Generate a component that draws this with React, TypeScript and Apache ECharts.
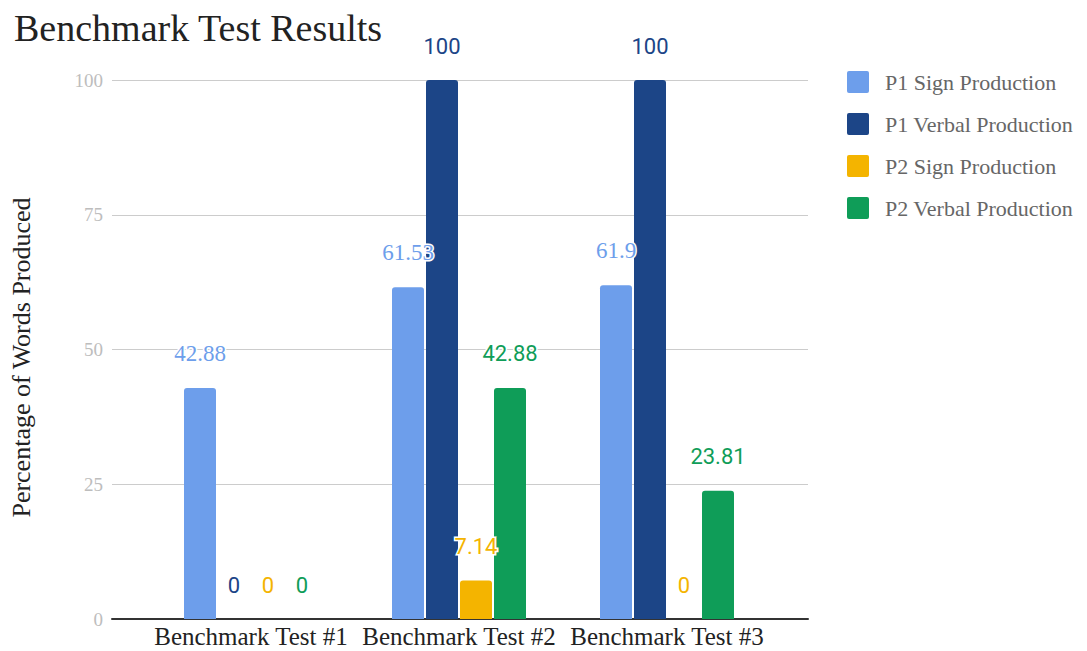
import React, { useEffect, useRef } from "react";
import * as echarts from "echarts";

const categories = ["Benchmark Test #1", "Benchmark Test #2", "Benchmark Test #3"];
const seriesNames = ["P1 Sign Production", "P1 Verbal Production", "P2 Sign Production", "P2 Verbal Production"];
const p1Sign = [42.88, 61.53, 61.9];
const p1Verbal = [0, 100, 100];
const p2Sign = [0, 7.14, 0];
const p2Verbal = [0, 42.88, 23.81];
const colors = ["#6d9eeb", "#1c4587", "#f4b400", "#0f9d58"];

const SERIF = "'Liberation Serif', 'Times New Roman', serif";
const SANS = "Roboto, 'Noto Sans', sans-serif";
const LEGEND_ICON = "path://M2,0 L20,0 Q22,0 22,2 L22,20 Q22,22 20,22 L2,22 Q0,22 0,20 L0,2 Q0,0 2,0 Z";

export default function App() {
  const ref = useRef<HTMLDivElement>(null);
  useEffect(() => {
    if (!ref.current) return;
    const chart = echarts.init(ref.current, undefined, { renderer: "svg" });
    const values = [p1Sign, p1Verbal, p2Sign, p2Verbal];
    const series = values.map((data, i) => ({
      name: seriesNames[i],
      type: "bar",
      xAxisIndex: 1,
      yAxisIndex: 1,
      data,
      barWidth: 32,
      barGap: "6.25%",
      itemStyle: { color: colors[i], borderRadius: [3, 3, 0, 0] },
      label: {
        show: true,
        position: "top",
        distance: 23,
        color: colors[i],
        fontFamily: i === 0 ? SERIF : SANS,
        fontSize: i === 0 ? 23 : 22,
        textBorderColor: "#fff",
        textBorderWidth: 3,
      },
    }));
    chart.setOption({
      animation: false,
      backgroundColor: "#fff",
      title: {
        text: "Benchmark Test Results",
        left: 9,
        top: 4,
        textStyle: { fontFamily: SERIF, fontSize: 38, fontWeight: "normal", color: "#222" },
      },
      legend: {
        orient: "vertical",
        left: 847,
        top: 71,
        padding: 0,
        itemWidth: 22,
        itemHeight: 22,
        itemGap: 20,
        icon: LEGEND_ICON,
        data: seriesNames,
        textStyle: { fontFamily: SERIF, fontSize: 22, color: "#666", padding: [0, 0, 0, 11] },
      },
      grid: [
        { left: 112, right: 279, top: 80, bottom: 32 },
        { left: 147, right: 316, top: 80, bottom: 32 },
      ],
      xAxis: [
        {
          gridIndex: 0,
          type: "category",
          data: [""],
          axisLine: { show: true, lineStyle: { color: "#333", width: 2 } },
          axisTick: { show: false },
          axisLabel: { show: false },
        },
        {
          gridIndex: 1,
          type: "category",
          data: categories,
          axisLine: { show: false },
          axisTick: { show: false },
          axisLabel: {
            interval: 0,
            hideOverlap: false,
            fontFamily: SERIF,
            fontSize: 25,
            color: "#222",
            margin: 5,
          },
        },
      ],
      yAxis: [
        {
          gridIndex: 0,
          type: "value",
          min: 0,
          max: 100,
          interval: 25,
          name: "Percentage of Words Produced",
          nameLocation: "middle",
          nameGap: 78,
          nameTextStyle: { fontFamily: SERIF, fontSize: 26, color: "#222", padding: [0, 16, 0, 0] },
          axisLine: { show: false },
          axisTick: { show: false },
          axisLabel: { fontFamily: SERIF, fontSize: 19, color: "#bdbdbd", margin: 9 },
          splitLine: { lineStyle: { color: "#cccccc", width: 1 } },
        },
        {
          gridIndex: 1,
          type: "value",
          min: 0,
          max: 100,
          interval: 25,
          show: false,
          splitLine: { show: false },
        },
      ],
      series,
    });
    return () => chart.dispose();
  }, []);
  return <div ref={ref} style={{ position: "fixed", left: 0, top: 0, width: 1087, height: 651 }} />;
}
